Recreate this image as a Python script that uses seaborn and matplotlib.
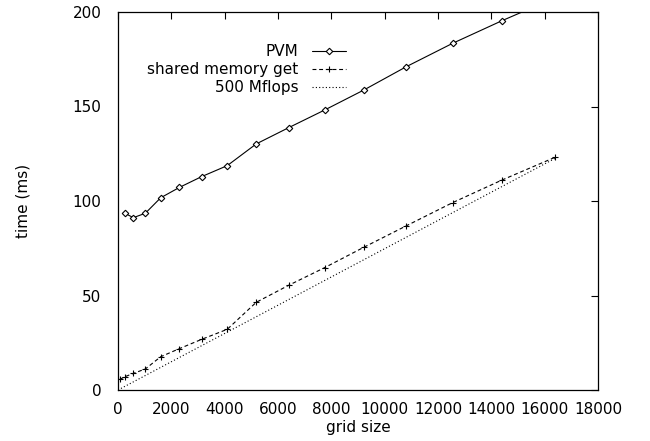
import pandas as pd
import seaborn as sns
import matplotlib.pyplot as plt

# grid sizes and times (ms)
pvm_size = [256, 576, 1024, 1600, 2304, 3136, 4096, 5184, 6400, 7744, 9216, 10816, 12544, 14400, 16384]
pvm_time = [93.5, 91.2, 93.5, 101.7, 107.2, 112.9, 118.7, 130.2, 138.8, 148.1, 158.7, 171.1, 183.4, 195.4, 207.5]

shm_size = [64, 256, 576, 1024, 1600, 2304, 3136, 4096, 5184, 6400, 7744, 9216, 10816, 12544, 14400, 16384]
shm_time = [5.6, 7.0, 8.8, 11.1, 17.6, 21.9, 26.8, 32.1, 46.4, 55.4, 64.7, 75.5, 86.9, 99.1, 111.1, 123.1]

mflops_size = [0, 16384]
mflops_time = [0.0, 122.5]

x_ticks = list(range(0, 18001, 2000))
y_ticks = list(range(0, 201, 50))

sns.set_style("white")
plt.rcParams['font.family'] = ['DejaVu Sans']
plt.rcParams['font.size'] = 11
plt.rcParams['text.color'] = 'black'
plt.rcParams['axes.labelcolor'] = 'black'

fig = plt.figure(figsize=(6.5, 4.41), dpi=100)
ax = fig.add_axes([118 / 650, 1 - 390 / 441, 480 / 650, 378 / 441])

sns.lineplot(x=pvm_size, y=pvm_time, ax=ax, color='black', lw=0.8,
             marker='D', markersize=3.3, markerfacecolor='white',
             markeredgecolor='black', markeredgewidth=0.8, label='PVM')
sns.lineplot(x=shm_size, y=shm_time, ax=ax, color='black', lw=0.8,
             linestyle=(0, (3.5, 2.5)), marker='+', markersize=5,
             markeredgecolor='black', markeredgewidth=0.8,
             label='shared memory get')
sns.lineplot(x=mflops_size, y=mflops_time, ax=ax, color='black', lw=0.8,
             linestyle=(0, (1, 2)), label='500 Mflops')

ax.set_xlim(0, 18000)
ax.set_ylim(0, 200)
ax.set_xticks(x_ticks)
ax.set_yticks(y_ticks)
ax.tick_params(direction='in', length=5, width=0.8, top=True, right=True,
               colors='black', labelsize=11)
ax.tick_params(axis='x', pad=9)
ax.tick_params(axis='y', pad=12)
for s in ax.spines.values():
    s.set_color('black')
    s.set_linewidth(0.9)

ax.set_xlabel('grid size', labelpad=2)
ax.set_ylabel('time (ms)', labelpad=30)

ax.legend(loc='upper right', bbox_to_anchor=(352 / 650, 1 - 38 / 441),
          bbox_transform=fig.transFigure, frameon=False, markerfirst=False,
          handlelength=2.2, handletextpad=0.9, labelspacing=0.2,
          borderaxespad=0, fontsize=11)

fig.savefig('out.png', dpi=100)
